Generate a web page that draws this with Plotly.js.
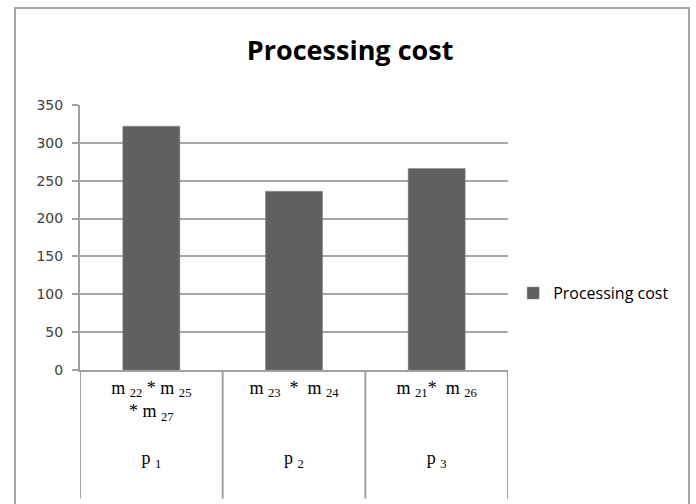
<!DOCTYPE html>
<html><head><meta charset="utf-8">
<script src="https://cdn.plot.ly/plotly-3.0.1.min.js"></script>
<style>
html,body{margin:0;padding:0;background:#fff;}
#wrap{position:relative;width:696px;height:504px;overflow:hidden;}
#chart{position:absolute;left:0;top:0;width:696px;height:504px;}
#frame{position:absolute;left:14px;top:7px;width:672px;height:520px;border:2px solid #a6a6a6;pointer-events:none;}
</style></head>
<body><div id="wrap"><div id="chart"></div><div id="frame"></div></div>
<script>
const categories = ["p1", "p2", "p3"];
const tickLabels = [
  "m <sub>22</sub> * m <sub>25</sub><br>* m <sub>27</sub><br><br>p <sub>1</sub>",
  "m <sub>23</sub>  *  m <sub>24</sub><br> <br><br>p <sub>2</sub>",
  "m <sub>21</sub>*  m <sub>26</sub><br> <br><br>p <sub>3</sub>"
];
const seriesName = "Processing cost";
const values = [322, 236, 266];
const yTicks = [0, 50, 100, 150, 200, 250, 300, 350];

const dividers = [];
for (let i = 0; i <= categories.length; i++) {
  dividers.push({type:'line', xref:'x', yref:'paper', x0:i-0.5, x1:i-0.5, y0:0, y1:-0.485,
    line:{color:'#a0a0a0', width:2}});
}

Plotly.newPlot('chart', [{
  type:'bar', x:categories, y:values, name:seriesName,
  marker:{color:'#606060', line:{color:'#8a8a8a', width:0.5}},
  width:0.4, showlegend:true
}], {
  width:696, height:504,
  margin:{l:80, r:188, t:105, b:134},
  paper_bgcolor:'#fff', plot_bgcolor:'#fff',
  title:{text:'<b>Processing cost</b>', x:0.503, xanchor:'center', y:0.9, yanchor:'middle',
    font:{family:'Open Sans, sans-serif', size:27, color:'#000'}},
  xaxis:{type:'category', tickvals:categories, ticktext:tickLabels, ticks:'',
    showline:true, linecolor:'#a0a0a0', linewidth:2, showgrid:false,
    tickfont:{family:'Liberation Serif, serif', size:18, color:'#000'}, automargin:false,
    range:[-0.5, 2.5]},
  yaxis:{range:[0,350], tickvals:yTicks, ticks:'outside', ticklen:6, tickcolor:'#a0a0a0', tickwidth:2,
    ticklabelstandoff:6,
    showline:true, linecolor:'#a0a0a0', linewidth:2, showgrid:true, gridcolor:'#a6a6a6', gridwidth:2,
    zeroline:false, tickfont:{family:'DejaVu Sans, sans-serif', size:14, color:'#404040'}, automargin:false},
  legend:{x:1.012, xanchor:'left', y:0.29, yanchor:'middle', font:{family:'Open Sans, sans-serif', size:16, color:'#000'},
    bgcolor:'rgba(0,0,0,0)'},
  shapes:dividers,
  bargap:0.6
}, {staticPlot:true});
</script></body></html>
